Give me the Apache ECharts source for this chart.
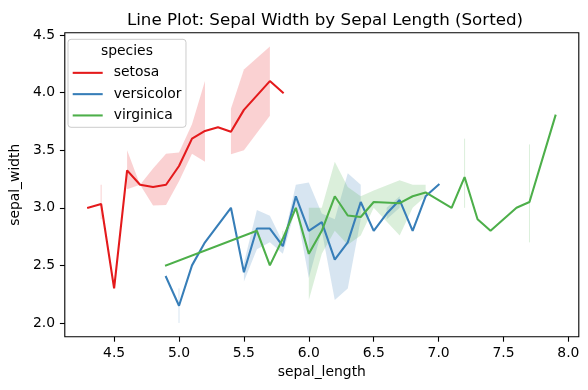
<!DOCTYPE html>
<html>
<head>
<meta charset="utf-8">
<script src="https://cdn.jsdelivr.net/npm/echarts@6/dist/echarts.min.js"></script>
<style>
html,body{margin:0;padding:0;background:#fff;}
#chart{width:588px;height:390px;}
</style>
</head>
<body>
<div id="chart"></div>
<script>
// ---- data (means and 95% CI per sepal_length) ----
const speciesNames = ['setosa', 'versicolor', 'virginica'];

const setosaX  = [4.3, 4.4, 4.5, 4.6, 4.7, 4.8, 4.9, 5.0, 5.1, 5.2, 5.3, 5.4, 5.5, 5.7, 5.8];
const setosaY  = [3.0, 3.033, 2.3, 3.325, 3.2, 3.18, 3.2, 3.3625, 3.6, 3.667, 3.7, 3.66, 3.85, 4.1, 4.0];
const setosaLo = [null, 2.9, null, 3.16, 3.2, 3.02, 3.025, 3.23, 3.47, 3.4, null, 3.465, 3.5, 3.8, null];
const setosaHi = [null, 3.2, null, 3.50, 3.2, 3.34, 3.47, 3.48, 3.725, 4.1, null, 3.86, 4.2, 4.4, null];

const versX  = [4.9, 5.0, 5.1, 5.2, 5.4, 5.5, 5.6, 5.7, 5.8, 5.9, 6.0, 6.1, 6.2, 6.3, 6.4, 6.5, 6.6, 6.7, 6.8, 6.9, 7.0];
const versY  = [2.4, 2.15, 2.5, 2.7, 3.0, 2.44, 2.82, 2.82, 2.667, 3.1, 2.8, 2.875, 2.55, 2.7, 3.05, 2.8, 2.95, 3.067, 2.8, 3.1, 3.2];
const versLo = [null, 2.0, null, null, null, 2.36, 2.64, 2.70, 2.6, 3.0, 2.39, 2.8, 2.2, 2.3, 2.9, null, 2.9, 3.0, null, null, null];
const versHi = [null, 2.3, null, null, null, 2.52, 2.98, 2.93, 2.7, 3.2, 3.22, 2.95, 2.9, 3.3, 3.2, null, 3.0, 3.1, null, null, null];

const virgX  = [4.9, 5.6, 5.7, 5.8, 5.9, 6.0, 6.1, 6.2, 6.3, 6.4, 6.5, 6.7, 6.8, 6.9, 7.1, 7.2, 7.3, 7.4, 7.6, 7.7, 7.9];
const virgY  = [2.5, 2.8, 2.5, 2.733, 3.0, 2.6, 2.8, 3.1, 2.933, 2.92, 3.05, 3.04, 3.1, 3.133, 3.0, 3.267, 2.9, 2.8, 3.0, 3.05, 3.8];
const virgLo = [null, null, null, 2.7, null, 2.2, 2.6, 2.8, 2.68, 2.76, 3.0, 2.76, 3.0, 3.1, null, 3.0, null, null, null, 2.7, null];
const virgHi = [null, null, null, 2.8, null, 3.0, 3.0, 3.4, 3.18, 3.1, 3.15, 3.24, 3.2, 3.2, null, 3.6, null, null, null, 3.55, null];

const xTicks = [4.5, 5.0, 5.5, 6.0, 6.5, 7.0, 7.5, 8.0];
const yTicks = [2.0, 2.5, 3.0, 3.5, 4.0, 4.5];

const colors = ['#e41a1c', '#377eb8', '#4daf4a'];
const bandColors = ['rgba(228,26,28,0.2)', 'rgba(55,126,184,0.2)', 'rgba(77,175,74,0.2)'];
const FONT = 'DejaVu Sans';

function bandSeries(xs, lo, hi, color) {
  return {
    type: 'custom', z: 1, silent: true, animation: false,
    data: [[xs[0], lo.find(v => v != null)]],
    renderItem: function (params, api) {
      const children = [];
      let run = [];
      const flush = function () {
        if (run.length === 1) {
          const i = run[0];
          const p1 = api.coord([xs[i], lo[i]]);
          const p2 = api.coord([xs[i], hi[i]]);
          children.push({ type: 'line', shape: { x1: p1[0], y1: p1[1], x2: p2[0], y2: p2[1] },
            style: { stroke: color, lineWidth: 1 } });
        } else if (run.length > 1) {
          const top = run.map(i => api.coord([xs[i], hi[i]]));
          const bot = run.slice().reverse().map(i => api.coord([xs[i], lo[i]]));
          children.push({ type: 'polygon', shape: { points: top.concat(bot) }, style: { fill: color } });
        }
        run = [];
      };
      for (let i = 0; i < xs.length; i++) {
        if (lo[i] == null || hi[i] == null) flush(); else run.push(i);
      }
      flush();
      return { type: 'group', children: children };
    }
  };
}

function lineSeries(name, xs, ys, color) {
  return {
    name: name, type: 'line', z: 2, animation: false,
    data: xs.map((x, i) => [x, ys[i]]),
    showSymbol: false, symbol: 'none',
    lineStyle: { color: color, width: 2.08, cap: 'square' },
    itemStyle: { color: color }
  };
}

const chart = echarts.init(document.getElementById('chart'), null, { renderer: 'canvas' });
const axisCommon = {
  axisLine: { show: false },
  splitLine: { show: false },
  axisTick: { show: true, inside: false, length: 4.9, lineStyle: { color: '#000', width: 1.1 } },
  axisLabel: { color: '#000', fontSize: 13.9, fontFamily: FONT, margin: 9.8, formatter: v => v.toFixed(1) },
  nameLocation: 'middle',
  nameTextStyle: { color: '#000', fontSize: 13.9, fontFamily: FONT }
};

chart.setOption({
  animation: false,
  backgroundColor: '#fff',
  title: {
    text: 'Line Plot: Sepal Width by Sepal Length (Sorted)',
    left: 320, top: 7.5, textAlign: 'center',
    textStyle: { color: '#000', fontSize: 16.7, fontWeight: 'normal', fontFamily: FONT }
  },
  grid: {
    left: 61.3, right: 9.2, top: 32.7, bottom: 53.2,
    show: true, borderColor: '#000', borderWidth: 1.1, backgroundColor: 'transparent'
  },
  xAxis: Object.assign({}, axisCommon, {
    type: 'value', min: 4.12, max: 8.08,
    name: 'sepal_length', nameGap: 28.5,
    axisTick: Object.assign({}, axisCommon.axisTick, { customValues: xTicks }),
    axisLabel: Object.assign({}, axisCommon.axisLabel, { customValues: xTicks })
  }),
  yAxis: Object.assign({}, axisCommon, {
    type: 'value', min: 1.88, max: 4.52,
    name: 'sepal_width', nameGap: 35,
    axisTick: Object.assign({}, axisCommon.axisTick, { customValues: yTicks }),
    axisLabel: Object.assign({}, axisCommon.axisLabel, { customValues: yTicks })
  }),
  legend: {
    data: speciesNames,
    orient: 'vertical',
    left: 68, top: 39.3,
    padding: [22.9, 4.5, 1.2, 4.7],
    itemGap: 0,
    itemWidth: 30, itemHeight: 2.08,
    icon: 'rect',
    backgroundColor: 'rgba(255,255,255,0.8)',
    borderColor: '#cccccc', borderWidth: 1, borderRadius: 3,
    textStyle: { color: '#000', fontSize: 13.9, fontFamily: FONT, lineHeight: 21.3, padding: [0, 0, 0, 6] },
    z: 10
  },
  graphic: [{
    type: 'text', z: 100, left: 127 - 26, top: 44,
    style: { text: 'species', fill: '#000', font: '13.9px "DejaVu Sans"' }
  }],
  series: [
    bandSeries(setosaX, setosaLo, setosaHi, bandColors[0]),
    bandSeries(versX, versLo, versHi, bandColors[1]),
    bandSeries(virgX, virgLo, virgHi, bandColors[2]),
    lineSeries(speciesNames[0], setosaX, setosaY, colors[0]),
    lineSeries(speciesNames[1], versX, versY, colors[1]),
    lineSeries(speciesNames[2], virgX, virgY, colors[2])
  ]
});
</script>
</body>
</html>
